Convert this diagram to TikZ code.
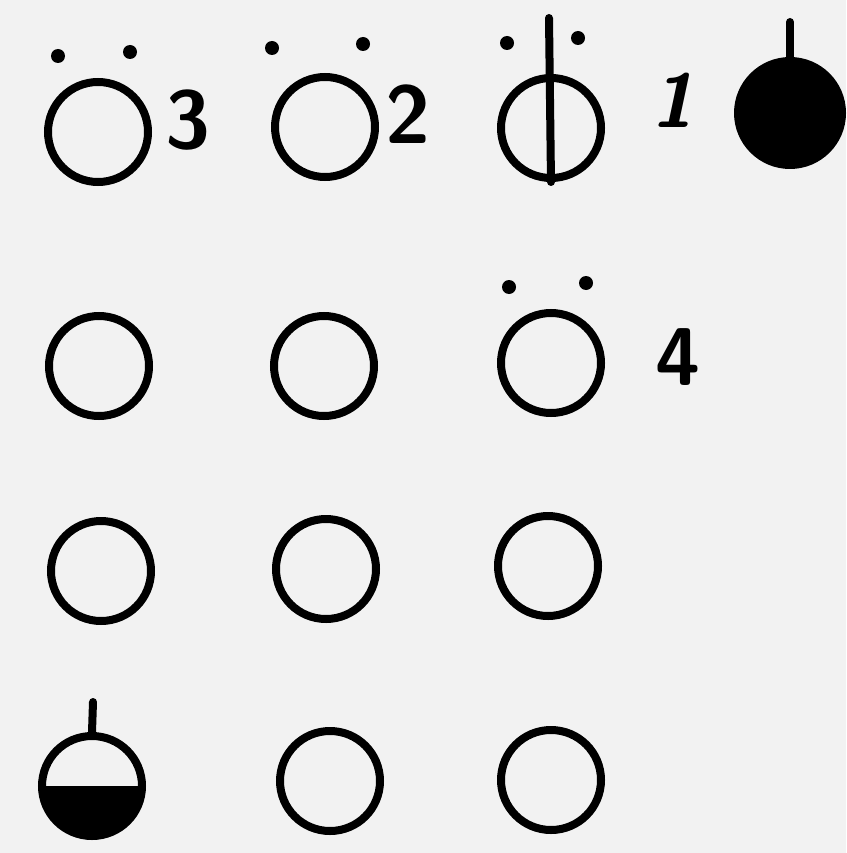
\documentclass[tikz,border=0pt]{standalone}
\begin{document}
\begin{tikzpicture}[x=1pt,y=-1pt,
  ring/.style={circle,draw=black,line width=8pt,minimum size=100pt,inner sep=0pt},
  dotmark/.style={circle,fill=black,minimum size=14pt,inner sep=0pt},
  stem/.style={line width=8pt,line cap=round},
  digit/.style={font=\fontsize{82}{82}\selectfont\sffamily\bfseries,inner sep=0pt},
  slantdigit/.style={font=\fontsize{76}{76}\selectfont\sffamily\bfseries\slshape,inner sep=0pt}]
\fill[black!5] (0,0) rectangle (846,853);
\useasboundingbox (0,0) rectangle (846,853);
% row 1
\node[ring] (r1a) at (98,132) {};
\node[dotmark] (d1) at (58,56) {};
\node[dotmark] (d2) at (130,52) {};
\node[digit] (l3) at (188,120) {3};
\node[ring] (r1b) at (325,127) {};
\node[dotmark] (d3) at (272,48) {};
\node[dotmark] (d4) at (363,44) {};
\node[digit] (l2) at (408,114) {2};
\node[ring] (r1c) at (551,128) {};
\coordinate (s1t) at (549,18);
\draw[stem] (s1t) -- (r1c.south);
\node[dotmark] (d5) at (507,43) {};
\node[dotmark] (d6) at (578,38) {};
\node[slantdigit] (l1) at (672,100) {1};
\node[circle,fill=black,minimum size=112pt,inner sep=0pt] (r1d) at (790,113) {};
\coordinate (s2t) at (790,22);
\draw[stem] (s2t) -- (r1d.north);
% row 2
\node[ring] (r2a) at (99,366) {};
\node[ring] (r2b) at (324,366) {};
\node[ring] (r2c) at (551,363) {};
\node[dotmark] (d7) at (509,287) {};
\node[dotmark] (d8) at (586,283) {};
\node[digit] (l4) at (678,357) {4};
% row 3
\node[ring] (r3a) at (101,571) {};
\node[ring] (r3b) at (326,569) {};
\node[ring] (r3c) at (548,566) {};
% row 4
\node[ring] (r4a) at (92,786) {};
\fill[black] (r4a.center) ++(-53,0) arc[start angle=180,end angle=0,radius=53] -- cycle;
\coordinate (s3t) at (93,702);
\draw[stem] (s3t) -- (r4a.north);
\node[ring] (r4b) at (330,781) {};
\node[ring] (r4c) at (551,780) {};
\end{tikzpicture}
\end{document}
